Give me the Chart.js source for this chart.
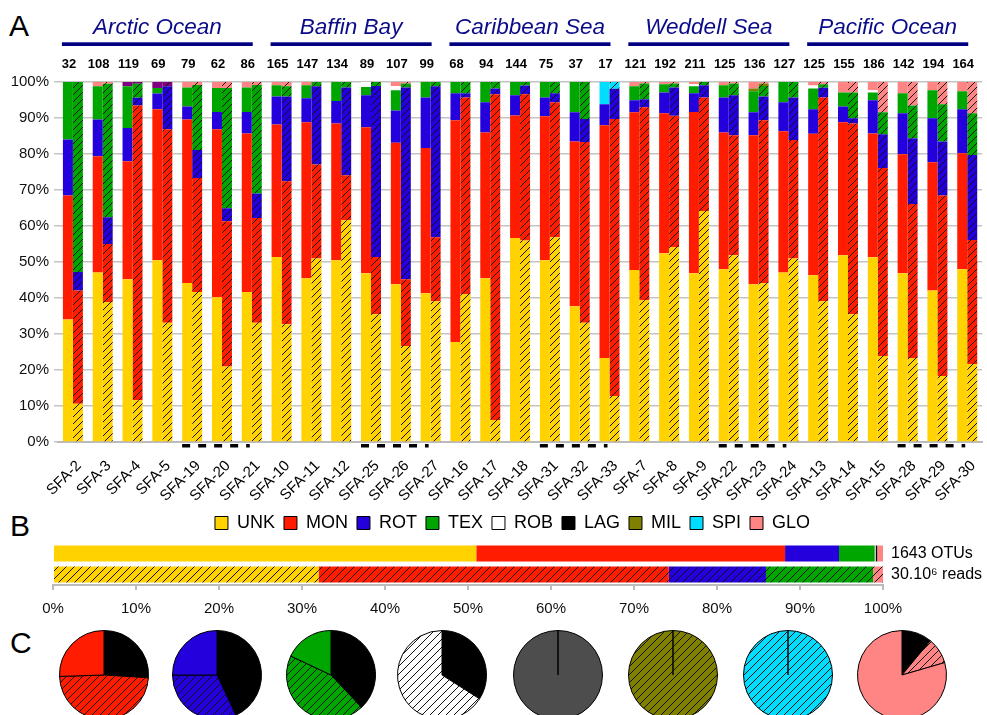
<!DOCTYPE html>
<html>
<head>
<meta charset="utf-8">
<script src="https://cdn.jsdelivr.net/npm/chart.js@4.4.1/dist/chart.umd.min.js"></script>
<style>
  body { margin: 0; width: 987px; height: 715px; overflow: hidden; position: relative; background: #fff;
         font-family: "Liberation Sans", Arial, sans-serif; }
  canvas { position: absolute; }
  .panel { position: absolute; font-size: 30px; line-height: 30px; color: #000; }
</style>
</head>
<body>
<div class="panel" style="left:9px;top:11px">A</div>
<div class="panel" style="left:10px;top:511px">B</div>
<div class="panel" style="left:10px;top:628px">C</div>
<canvas id="chart-a" width="987" height="505" style="left:0;top:0"></canvas>
<canvas id="chart-b" width="987" height="115" style="left:0;top:505px"></canvas>
<div id="pies"></div>
<script>
// ---- data ----
const sites = ['SFA-2','SFA-3','SFA-4','SFA-5','SFA-19','SFA-20','SFA-21',
  'SFA-10','SFA-11','SFA-12','SFA-25','SFA-26','SFA-27',
  'SFA-16','SFA-17','SFA-18','SFA-31','SFA-32','SFA-33',
  'SFA-7','SFA-8','SFA-9','SFA-22','SFA-23','SFA-24',
  'SFA-13','SFA-14','SFA-15','SFA-28','SFA-29','SFA-30'];
const otuCounts = [32,108,119,69,79,62,86, 165,147,134,89,107,99, 68,94,144,75,37,17,
  121,192,211,125,136,127, 125,155,186,142,194,164];

const regionNames = ['Arctic Ocean','Baffin Bay','Caribbean Sea','Weddell Sea','Pacific Ocean'];
const regionFirst = [0, 7, 13, 19, 25];
const regionLast = [6, 12, 18, 24, 30];
const markFirst = [4, 10, 16, 22, 28];
const markLast = [6, 12, 18, 24, 30];

const categories = ['UNK','MON','ROT','TEX','ROB','LAG','MIL','SPI','GLO'];

// % of OTUs per site (solid bars)
const unkOtu = [34,47.1,45.2,50.5,44.2,40.2,41.7, 51.4,45.5,50.5,46.9,43.8,41.3, 27.8,45.5,56.7,50.5,37.7,23.3, 47.8,52.4,46.9,48,43.8,47.1, 46.3,51.9,51.3,46.9,42.1,48];
const monOtu = [34.5,32.3,32.8,41.9,45.4,46.7,44, 36.8,43.3,38,40.5,39.3,40.4, 61.6,40.5,34,40,45.8,64.7, 43.8,38.9,44.8,38,41.4,39.2, 39.3,36.9,34.4,33,35.6,32.2];
const rotOtu = [15.5,10.2,9.2,4.4,3.6,4.8,6, 7.8,6.7,6.2,8.9,9,14, 7.5,8.4,5.6,5.2,8.1,5.8, 3.3,5.8,5.2,9.7,6.4,8.1, 6.8,4.4,9.2,11.4,12.2,12.2];
const texOtu = [16,9.2,11.6,1.5,5.3,6.6,6.8, 3.1,3.6,5.3,2.3,5.6,4.3, 3.1,5.6,3.7,4.3,8.4,0, 3.9,2.3,1.9,3.4,5.8,5.6, 5.8,3.9,2.2,5.6,7.8,5];
const robOtu = [0,0,0,0,0,0,0, 0,0,0,1.4,1.2,0, 0,0,0,0,0,0, 0,0,0.6,0,0,0, 0.8,0,0.6,0,0,0];
const lagOtu = new Array(31).fill(0);
const milOtu = [0,0,0,0,0,0,0, 0,0,0,0,0,0, 0,0,0,0,0,0, 0,0,0,0,0.8,0, 0,0,0,0,0,0];
const spiOtu = [0,0,0,0,0,0,0, 0,0,0,0,0,0, 0,0,0,0,0,6.2, 0,0,0,0,0,0, 0,0,0,0,0,0];
const othOtu = [0,0,1.2,1.7,0,0,0, 0,0,0,0,0,0, 0,0,0,0,0,0, 0,0,0,0,0,0, 0,0,0,0,0,0];
const gloOtu = [0,1.2,0,0,1.5,1.7,1.5, 0.9,0.9,0,0,1.1,0, 0,0,0,0,0,0, 1.2,0.6,0.6,0.9,1.8,0, 1,2.9,2.3,3.1,2.3,2.6];

// % of reads per site (hatched bars)
const unkReads = [10.6,38.9,11.6,33.1,41.7,21,33.1, 32.7,51,61.6,35.5,26.7,39.1, 41.1,6.1,56,56.9,33.1,12.8, 39.4,54.2,64.2,51.9,44.1,51, 39.1,35.5,23.9,23.3,18.3,21.7];
const monReads = [31.5,16.1,81.9,53.8,31.6,40.3,29.1, 39.7,26.1,12.5,15.9,18.5,17.8, 54.6,90.5,40.6,37.5,50.2,76.9, 53.6,36.4,31.5,33.3,45.3,32.9, 56.6,53,52.2,42.8,50.2,34.4];
const rotReads = [5.1,7.4,2.1,11.9,7.8,3.6,6.8, 23.6,21.7,24.4,47.5,53.3,41.9, 1.2,1.6,2.4,2.5,6.4,8.4, 2.2,7.9,3.4,11.1,6.6,11.8, 2.7,1.4,9.4,18.3,15,23.6];
const texReads = [52.8,37.1,3.9,0,18.1,33.4,30.2, 2.8,1.2,1.5,1.1,1.1,1.2, 3.1,1.8,1,3.1,10.3,0, 4.4,1.1,0.9,3.3,2.9,4.3, 1,7.2,6.1,9.1,10.3,11.6];
const robReads = new Array(31).fill(0);
const lagReads = new Array(31).fill(0);
const milReads = [0,0,0,0,0,0,0, 0,0,0,0,0,0, 0,0,0,0,0,0, 0,0,0,0,0.7,0, 0,0,0,0,0,0];
const spiReads = [0,0,0,0,0,0,0, 0,0,0,0,0,0, 0,0,0,0,0,1.9, 0,0,0,0,0,0, 0,0,0,0,0,0];
const othReads = [0,0,0.5,1.2,0,0,0, 0,0,0,0,0,0, 0,0,0,0,0,0, 0,0,0,0,0,0, 0,0,0,0,0,0];
const gloReads = [0,0.5,0,0,0.8,1.7,0.8, 1.2,0,0,0,0.4,0, 0,0,0,0,0,0, 0.4,0.4,0,0.4,0.4,0, 0.6,2.9,8.4,6.5,6.2,8.8];

// panel B totals (same order as categories)
const totalOtu = [51.0, 37.2, 6.5, 4.3, 0.1, 0.2, 0, 0, 0.7];
const totalReads = [32.0, 42.2, 11.7, 12.9, 0, 0, 0, 0, 1.2];
const totalLabels = ['1643 OTUs', '30.10\u2076 reads'];

// panel C pies, slices clockwise from 12 o'clock
const pieMon = [26, 48.5, 25.5];
const pieRot = [43, 32, 25];
const pieTex = [38, 44, 18];
const pieRob = [34, 66];
const pieLag = [100];
const pieMil = [100];
const pieSpi = [100];
const pieGlo = [11, 9.5, 79.5];
const pieCentersX = [104, 217, 331, 442, 558, 673, 788, 902];

// ---- styles ----
const colors = {
  UNK: '#FFD200', MON: '#FF1C00', ROT: '#2400DD', TEX: '#00A600', ROB: '#FFFFFF',
  LAG: '#000000', MIL: '#808000', SPI: '#00DDFF', GLO: '#FF8585', OTH: '#800080'
};

function hatch(color, size) {
  const c = document.createElement('canvas');
  c.width = c.height = size;
  const g = c.getContext('2d');
  g.fillStyle = color;
  g.fillRect(0, 0, size, size);
  g.strokeStyle = '#111';
  g.lineWidth = 1;
  g.beginPath();
  g.moveTo(0, size); g.lineTo(size, 0);
  g.moveTo(-1, 1); g.lineTo(1, -1);
  g.moveTo(size - 1, size + 1); g.lineTo(size + 1, size - 1);
  g.stroke();
  return g.createPattern(c, 'repeat');
}

Chart.defaults.font.family = '"Liberation Sans", Arial, sans-serif';
Chart.defaults.color = '#000';
Chart.defaults.animation = false;

// ---- panel A ----
const stackOrder = [
  ['UNK', unkOtu, unkReads], ['MON', monOtu, monReads], ['ROT', rotOtu, rotReads],
  ['TEX', texOtu, texReads], ['ROB', robOtu, robReads], ['LAG', lagOtu, lagReads],
  ['MIL', milOtu, milReads], ['SPI', spiOtu, spiReads], ['OTH', othOtu, othReads],
  ['GLO', gloOtu, gloReads]
];
const datasetsA = [];
stackOrder.forEach(([name, otu, reads]) => {
  datasetsA.push({ label: name, stack: 'otu', data: otu, backgroundColor: colors[name] });
  datasetsA.push({ label: name, stack: 'reads', data: reads, backgroundColor: hatch(colors[name], 7) });
});

const annotateA = {
  id: 'annotateA',
  afterDraw(chart) {
    const { ctx, scales: { x } } = chart;
    ctx.save();
    ctx.textAlign = 'center';
    // OTU counts above bars
    ctx.font = 'bold 13px "Liberation Sans", Arial, sans-serif';
    ctx.fillStyle = '#000';
    ctx.textBaseline = 'middle';
    otuCounts.forEach((n, i) => ctx.fillText(n, x.getPixelForValue(i) - 4, 64));
    // region headers
    ctx.font = 'italic 22.5px "Liberation Sans", Arial, sans-serif';
    ctx.textBaseline = 'alphabetic';
    regionNames.forEach((name, r) => {
      const x0 = x.getPixelForValue(regionFirst[r]) - 11;
      const x1 = x.getPixelForValue(regionLast[r]) + 1;
      ctx.fillStyle = '#000080';
      ctx.fillRect(x0, 42.3, x1 - x0, 3.7);
      ctx.fillStyle = '#0b0b8a';
      ctx.fillText(name, (x0 + x1) / 2, 33.5);
    });
    // dashed marks under the axis
    ctx.strokeStyle = '#000';
    ctx.lineWidth = 3.4;
    ctx.setLineDash([8, 8]);
    markFirst.forEach((a, k) => {
      ctx.beginPath();
      ctx.moveTo(x.getPixelForValue(a) - 10, 445.7);
      ctx.lineTo(x.getPixelForValue(markLast[k]) - 2, 445.7);
      ctx.stroke();
    });
    ctx.restore();
  }
};

new Chart(document.getElementById('chart-a'), {
  type: 'bar',
  data: { labels: sites, datasets: datasetsA },
  options: {
    responsive: false,
    layout: { padding: { top: 82, right: 3 } },
    datasets: { bar: { categoryPercentage: 0.67, barPercentage: 1.0 } },
    plugins: { legend: { display: false }, tooltip: { enabled: false } },
    scales: {
      x: {
        stacked: true,
        grid: { display: false },
        border: { color: '#bbb', width: 2 },
        ticks: { font: { size: 15 }, color: '#000', minRotation: 45, maxRotation: 45, autoSkip: false,
                 padding: 7, labelOffset: 6 },
        afterFit(s) { s.height = 63; }
      },
      y: {
        stacked: true, min: 0, max: 100,
        border: { display: false },
        grid: { color: '#c4c4c4', lineWidth: 1.5, tickLength: 4 },
        ticks: { stepSize: 10, callback: v => v + '%', font: { size: 15 }, color: '#111', padding: 5 },
        afterFit(s) { s.width = 58; }
      }
    }
  },
  plugins: [annotateA]
});

// ---- panel B ----
const shortLegend = {
  id: 'shortLegend',
  beforeInit(chart) {
    const fit = chart.legend.fit;
    chart.legend.fit = function () { fit.call(this); this.height = 38; };
  }
};

new Chart(document.getElementById('chart-b'), {
  type: 'bar',
  data: {
    labels: ['OTUs', 'reads'],
    datasets: categories.map((c, i) => ({
      label: c,
      data: [totalOtu[i], totalReads[i]],
      backgroundColor: [colors[c], hatch(colors[c], 8)],
      barPercentage: 16 / 21,
      categoryPercentage: 1
    }))
  },
  options: {
    indexAxis: 'y',
    responsive: false,
    layout: { padding: { left: 38 } },
    plugins: {
      tooltip: { enabled: false },
      legend: {
        labels: {
          boxWidth: 13, boxHeight: 13, padding: 9, color: '#000', font: { size: 18 },
          generateLabels: () => categories.map((c, i) => ({
            text: c, fillStyle: colors[c], strokeStyle: '#000', lineWidth: 1, hidden: false, datasetIndex: i
          }))
        }
      }
    },
    scales: {
      x: {
        stacked: true, min: 0, max: 100,
        grid: { drawOnChartArea: false, tickLength: 5, color: '#bbb', lineWidth: 2 },
        border: { color: '#bbb', width: 2 },
        ticks: { stepSize: 10, callback: v => v + '%', font: { size: 15 }, color: '#111', padding: 10 },
        afterFit(s) { s.height = 35; }
      },
      y: {
        stacked: true,
        grid: { display: false }, border: { display: false }, ticks: { display: false },
        afterFit(s) { s.width = 15; }
      },
      y2: {
        type: 'category', position: 'right', labels: totalLabels, offset: true,
        grid: { display: false, drawTicks: false }, border: { display: false },
        ticks: { font: { size: 16, lineHeight: 1 }, color: '#000', padding: 8, autoSkip: false },
        afterFit(s) { s.width = 104; }
      }
    }
  },
  plugins: [shortLegend]
});

// ---- panel C ----
const pieSets = [
  [pieMon, ['#000', hatch(colors.MON, 8), colors.MON]],
  [pieRot, ['#000', hatch(colors.ROT, 8), colors.ROT]],
  [pieTex, ['#000', hatch(colors.TEX, 8), colors.TEX]],
  [pieRob, ['#000', hatch(colors.ROB, 8)]],
  [pieLag, ['#4d4d4d']],
  [pieMil, [hatch(colors.MIL, 8)]],
  [pieSpi, [hatch(colors.SPI, 8)]],
  [pieGlo, ['#000', hatch(colors.GLO, 8), colors.GLO]]
];
const pieHolder = document.getElementById('pies');
pieSets.forEach(([values, fills], k) => {
  const cv = document.createElement('canvas');
  cv.width = 92; cv.height = 92;
  cv.style.left = (pieCentersX[k] - 46) + 'px';
  cv.style.top = '629px';
  pieHolder.appendChild(cv);
  new Chart(cv, {
    type: 'pie',
    data: { datasets: [{ data: values, backgroundColor: fills, borderColor: '#000', borderWidth: 1 }] },
    options: {
      responsive: false,
      layout: { padding: 1 },
      plugins: { legend: { display: false }, tooltip: { enabled: false } }
    }
  });
});
</script>
</body>
</html>
